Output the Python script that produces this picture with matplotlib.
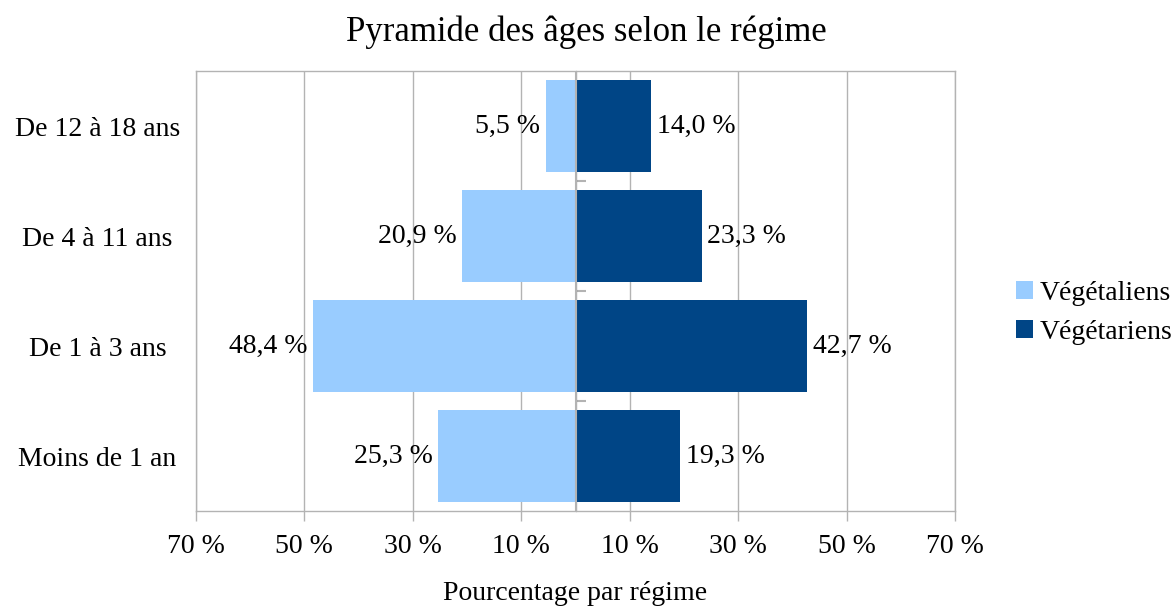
"""pyramide des âges selon le régime (végétaliens / végétariens)."""
import matplotlib
matplotlib.use("Agg")
import matplotlib.pyplot as plt
import numpy as np

categories = ["Moins de 1 an", "De 1 à 3 ans", "De 4 à 11 ans", "De 12 à 18 ans"]
vegetaliens = [25.3, 48.4, 20.9, 5.5]
vegetariens = [19.3, 42.7, 23.3, 14.0]
series_names = ["Végétaliens", "Végétariens"]
xticks = [-70, -50, -30, -10, 10, 30, 50, 70]

light = "#99ccff"
dark = "#004586"
grid_col = "#b3b3b3"
fs = 20

plt.rcParams["font.family"] = ["Liberation Serif", "DejaVu Serif"]

fig = plt.figure(figsize=(11.73, 6.12), dpi=100)
ax = fig.add_axes([196 / 1173, 1 - 511 / 612, (955 - 196) / 1173, (511 - 71) / 612])

y = np.arange(len(categories))
left_vals = -np.array(vegetaliens)
b1 = ax.barh(y, left_vals, height=0.83, color=light, label=series_names[0], zorder=2)
b2 = ax.barh(y, vegetariens, height=0.83, color=dark, label=series_names[1], zorder=2)

fmt = lambda v: f"{abs(v):.1f} %".replace(".", ",")
ax.bar_label(b1, labels=[fmt(v) for v in vegetaliens], padding=4, fontsize=fs)
ax.bar_label(b2, labels=[fmt(v) for v in vegetariens], padding=4, fontsize=fs)

ax.set_xlim(-70, 70)
ax.set_ylim(-0.5, len(categories) - 0.5)
ax.set_xticks(xticks)
ax.set_xticklabels([f"{abs(t)} %" for t in xticks], fontsize=fs)
ax.set_yticks(y)
ax.set_yticklabels(categories, fontsize=fs, ha="center")
ax.tick_params(axis="y", length=0, pad=71)
ax.tick_params(axis="x", length=7.5, width=1, color=grid_col, pad=9)
ax.xaxis.grid(True, color=grid_col, lw=1, zorder=0)
ax.set_axisbelow(True)
for s in ax.spines.values():
    s.set_color(grid_col)
    s.set_linewidth(1)

# centre axis with small ticks between categories
ax.axvline(0, color=grid_col, lw=1.5, zorder=3)
sec = ax.secondary_yaxis(0.5)
sec.set_yticks(y[:-1] + 0.5)
sec.set_yticklabels([])
sec.tick_params(length=7, width=1.5, color=grid_col)
sec.spines["left"].set_visible(False)

ax.set_xlabel("Pourcentage par régime", fontsize=fs, labelpad=16)
fig.suptitle("Pyramide des âges selon le régime", fontsize=25, y=0.975)

ax.legend(loc="center left", bbox_to_anchor=(1.081, 0.45), frameon=False, fontsize=fs,
          handlelength=0.6, handleheight=0.6, handletextpad=0.25, labelspacing=0.5,
          borderaxespad=0, borderpad=0)

fig.savefig("out.png", dpi=100)
